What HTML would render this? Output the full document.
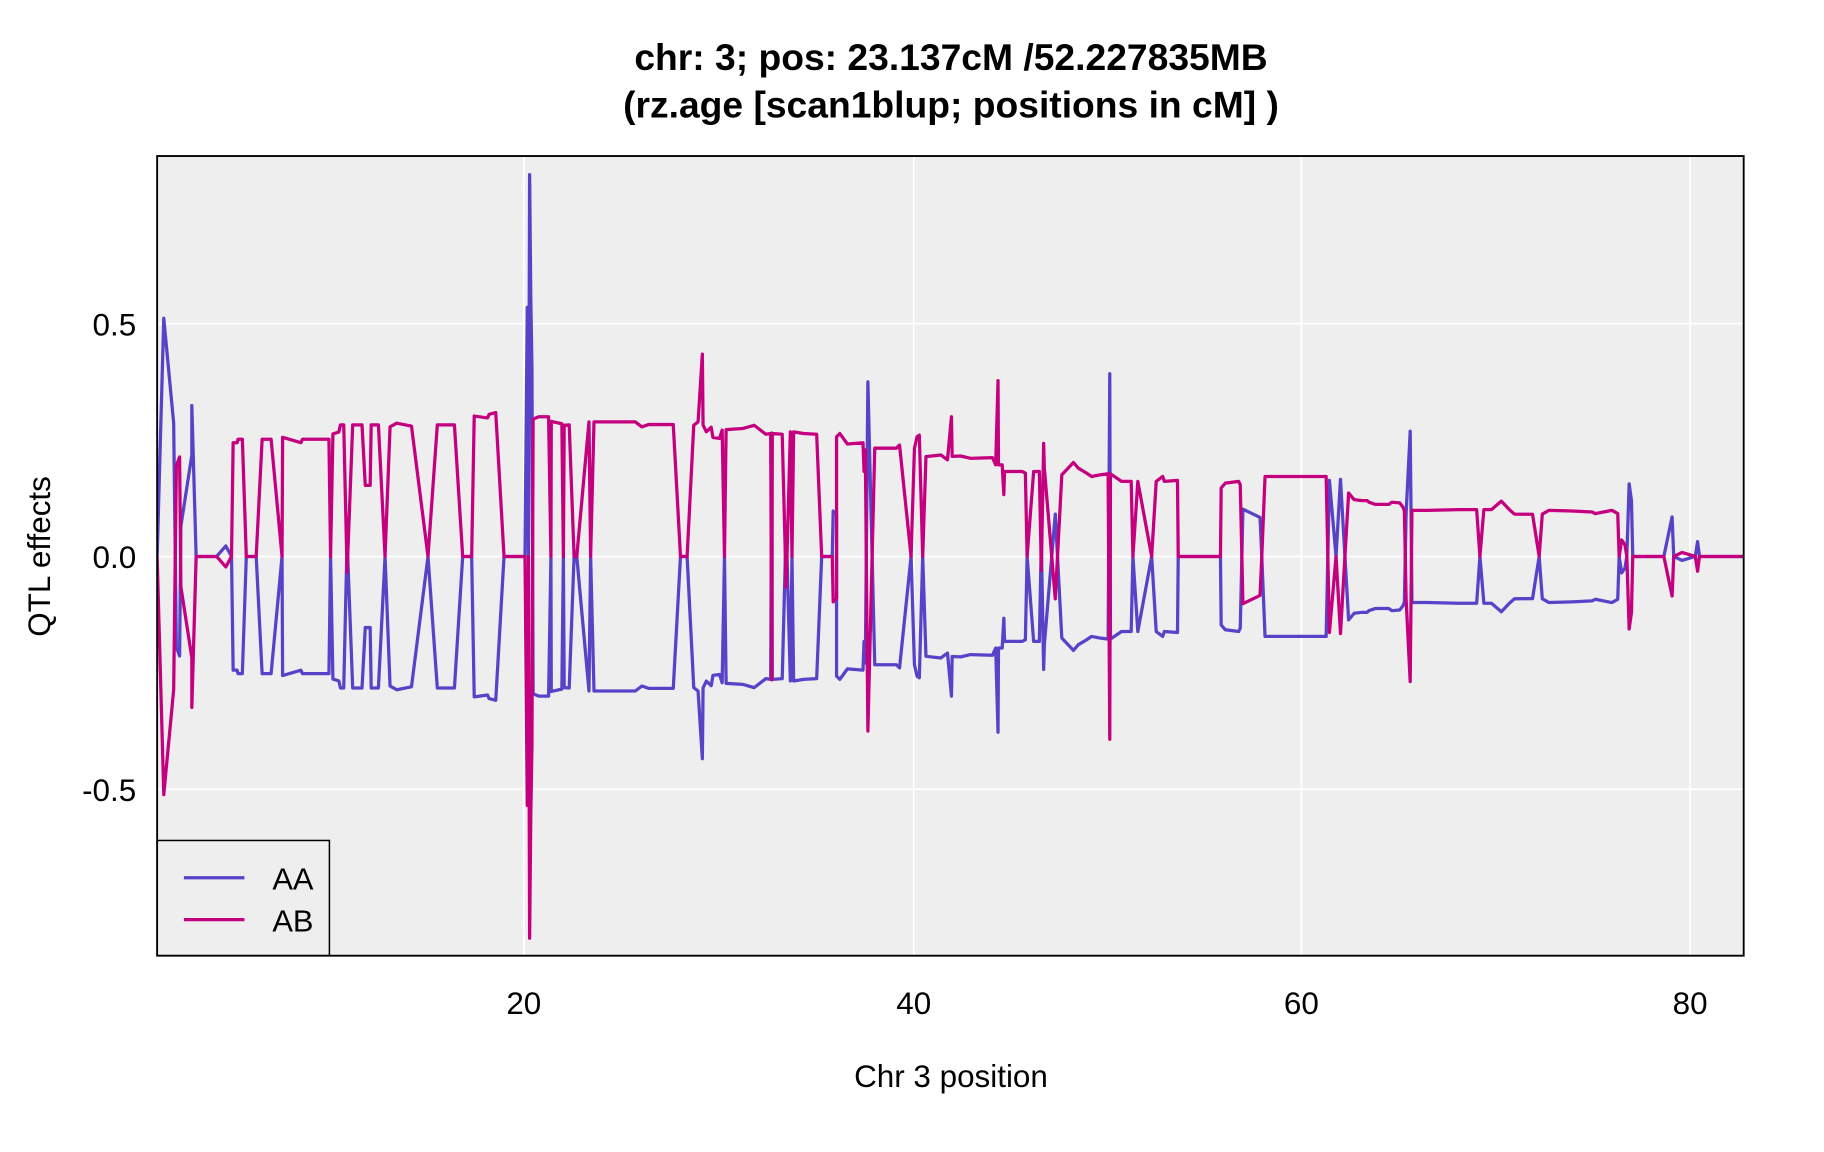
<!DOCTYPE html>
<html><head><meta charset="utf-8"><style>
html,body{margin:0;padding:0;background:#fff;}
svg{display:block;}
text{font-family:"Liberation Sans",Arial,sans-serif;fill:#000;}
</style></head><body>
<svg width="1824" height="1152" viewBox="0 0 1567 989.6" xmlns="http://www.w3.org/2000/svg">
<defs><clipPath id="c"><rect x="135" y="134" width="1363" height="687"/></clipPath></defs>
<text x="817" y="60" font-size="32" font-weight="bold" text-anchor="middle">chr: 3; pos: 23.137cM /52.227835MB</text>
<text x="817" y="101" font-size="32" font-weight="bold" text-anchor="middle">(rz.age [scan1blup; positions in cM] )</text>
<rect x="135" y="134" width="1363" height="687" fill="#eeeeee"/>
<g stroke="#ffffff" stroke-width="1.5">
<line x1="450" y1="134" x2="450" y2="821"/><line x1="785" y1="134" x2="785" y2="821"/>
<line x1="1118" y1="134" x2="1118" y2="821"/><line x1="1452" y1="134" x2="1452" y2="821"/>
<line x1="135" y1="278" x2="1498" y2="278"/><line x1="135" y1="478" x2="1498" y2="478"/><line x1="135" y1="678" x2="1498" y2="678"/>
</g>
<g clip-path="url(#c)" fill="none" stroke-width="2.8" stroke-linejoin="round">
<polyline stroke="#5743c8" transform="translate(0,956) scale(1,-1)" points="135,478 140.7,682.6 149.2,592.5 151.5,400.1 154.3,392.5 155.4,504 164.8,565 164.8,607.7 168.5,478 186.1,478 194,487 198.9,478 200.3,380.3 203.7,380.3 204.5,377.3 208.2,377.3 211.6,478 220.1,478 225.2,377.3 232.9,377.3 242.3,478 242.8,375.7 258.5,380.3 259.9,377.3 282.6,377.3 284,478 286,372.7 291.1,371.1 292.5,365 295.3,365 298.2,491.7 303,365 311,365 313.8,416.9 318,416.9 318.9,365 325.1,365 330.8,478 335.1,366.6 340.8,363.5 353.5,366 367.7,478 375.7,365 390.4,365 397.5,478 405.2,478 407.4,357.4 418.8,359 420.2,355.9 425.9,354.4 433,478 448,478 451,478 453,692 454,478 455,806 456,700 457,640 458,360 462.8,358 471.3,358 473.3,478 473.6,362 482.7,364 484,478 484.7,365.3 489,365 493.2,478 495.5,478 506,362.4 507.4,478 510.3,362.4 545.8,362.4 551.5,366.7 557.1,364.7 578.4,364.7 584.6,478 590.3,478 596,365.3 599.7,362.4 603.4,304.2 604,365 606.8,370.9 611,367 612.5,375.8 618.2,376.6 620.4,369.5 622.4,478 623.8,369 638,368.1 647.9,365.3 657.9,373 662.1,372.4 663,584 663.5,372.4 672,373 675.4,504.4 679,371 680.4,478 681.8,371 690.3,372.4 701.6,373 705.9,478 715,478 715.8,517 718.7,514 718.7,375.2 721.5,372.4 728,381.4 741.4,380.3 742.3,405 743.4,386.5 745.6,628 751.5,385 770,385 772.8,382.3 782.7,478 785.6,385 787.8,375.2 789.8,373.8 792.7,478 795.5,392.2 808.3,390.8 814,395 817.4,358 818,392 825.3,391.7 833.8,393.7 852.6,393.1 855.4,399.3 857.4,327 857.8,399.3 861,399.3 862.4,424.9 863,405 878,405 880.9,406.4 882.4,478 888,405 892.9,405 894.6,490 896.6,380.9 897.2,402.2 906.6,514.4 912.2,407.9 913.6,406.4 922.2,397.3 926.4,402.2 933.5,406.4 937.8,409.3 944.9,407.9 952,407 953.4,635 954,407 963.5,413.5 971.8,413.5 973.3,478 977.5,413.5 989.4,478 993.3,413.5 998.9,409.3 1000.3,413.5 1011.6,412.7 1012.2,478 1048.5,478 1049.1,419.2 1052.7,415 1064.1,413.5 1065.5,416.4 1067.8,518.6 1082.5,511.5 1084,478 1086.8,409.3 1139.3,409.3 1142.1,543.3 1147.8,478 1151.6,544.2 1158.6,423.5 1163.4,429.2 1170,430 1174.5,430 1176,431.4 1181.7,433.3 1193,433.3 1195.8,431.4 1202.5,432 1205.3,435.6 1206.5,438.7 1208,514.8 1211.5,585.5 1213,438.4 1226,438.4 1253,437.8 1268.6,437.8 1271.4,478 1274.8,437.8 1281.3,437.8 1289.8,430.5 1296.7,437.8 1301,441.6 1316.6,441.8 1322.3,478 1325,441.6 1330.8,438.4 1350.6,439 1367.7,439.8 1370.5,441.2 1384.7,438.4 1389.8,441.2 1391,478 1393.2,463.9 1396,468 1397.6,478 1399.6,540.3 1401.6,526 1402.7,478 1429.4,478 1436.5,512 1437.9,478 1445,474.6 1456.4,478 1458.4,490.7 1460,478 1498,478"/>
<polyline stroke="#c4007f" points="135,478 140.7,682.6 149.2,592.5 151.5,400.1 154.3,392.5 155.4,504 164.8,565 164.8,607.7 168.5,478 186.1,478 194,487 198.9,478 200.3,380.3 203.7,380.3 204.5,377.3 208.2,377.3 211.6,478 220.1,478 225.2,377.3 232.9,377.3 242.3,478 242.8,375.7 258.5,380.3 259.9,377.3 282.6,377.3 284,478 286,372.7 291.1,371.1 292.5,365 295.3,365 298.2,491.7 303,365 311,365 313.8,416.9 318,416.9 318.9,365 325.1,365 330.8,478 335.1,366.6 340.8,363.5 353.5,366 367.7,478 375.7,365 390.4,365 397.5,478 405.2,478 407.4,357.4 418.8,359 420.2,355.9 425.9,354.4 433,478 448,478 451,478 453,692 454,478 455,806 456,700 457,640 458,360 462.8,358 471.3,358 473.3,478 473.6,362 482.7,364 484,478 484.7,365.3 489,365 493.2,478 495.5,478 506,362.4 507.4,478 510.3,362.4 545.8,362.4 551.5,366.7 557.1,364.7 578.4,364.7 584.6,478 590.3,478 596,365.3 599.7,362.4 603.4,304.2 604,365 606.8,370.9 611,367 612.5,375.8 618.2,376.6 620.4,369.5 622.4,478 623.8,369 638,368.1 647.9,365.3 657.9,373 662.1,372.4 663,584 663.5,372.4 672,373 675.4,504.4 679,371 680.4,478 681.8,371 690.3,372.4 701.6,373 705.9,478 715,478 715.8,517 718.7,514 718.7,375.2 721.5,372.4 728,381.4 741.4,380.3 742.3,405 743.4,386.5 745.6,628 751.5,385 770,385 772.8,382.3 782.7,478 785.6,385 787.8,375.2 789.8,373.8 792.7,478 795.5,392.2 808.3,390.8 814,395 817.4,358 818,392 825.3,391.7 833.8,393.7 852.6,393.1 855.4,399.3 857.4,327 857.8,399.3 861,399.3 862.4,424.9 863,405 878,405 880.9,406.4 882.4,478 888,405 892.9,405 894.6,490 896.6,380.9 897.2,402.2 906.6,514.4 912.2,407.9 913.6,406.4 922.2,397.3 926.4,402.2 933.5,406.4 937.8,409.3 944.9,407.9 952,407 953.4,635 954,407 963.5,413.5 971.8,413.5 973.3,478 977.5,413.5 989.4,478 993.3,413.5 998.9,409.3 1000.3,413.5 1011.6,412.7 1012.2,478 1048.5,478 1049.1,419.2 1052.7,415 1064.1,413.5 1065.5,416.4 1067.8,518.6 1082.5,511.5 1084,478 1086.8,409.3 1139.3,409.3 1142.1,543.3 1147.8,478 1151.6,544.2 1158.6,423.5 1163.4,429.2 1170,430 1174.5,430 1176,431.4 1181.7,433.3 1193,433.3 1195.8,431.4 1202.5,432 1205.3,435.6 1206.5,438.7 1208,514.8 1211.5,585.5 1213,438.4 1226,438.4 1253,437.8 1268.6,437.8 1271.4,478 1274.8,437.8 1281.3,437.8 1289.8,430.5 1296.7,437.8 1301,441.6 1316.6,441.8 1322.3,478 1325,441.6 1330.8,438.4 1350.6,439 1367.7,439.8 1370.5,441.2 1384.7,438.4 1389.8,441.2 1391,478 1393.2,463.9 1396,468 1397.6,478 1399.6,540.3 1401.6,526 1402.7,478 1429.4,478 1436.5,512 1437.9,478 1445,474.6 1456.4,478 1458.4,490.7 1460,478 1498,478"/>
</g>
<rect x="135" y="722" width="148" height="99" fill="#eeeeee" stroke="#000" stroke-width="1.3"/>
<line x1="158" y1="754" x2="210" y2="754" stroke="#5743c8" stroke-width="2.8"/>
<line x1="158" y1="790" x2="210" y2="790" stroke="#c4007f" stroke-width="2.8"/>
<text x="234" y="764" font-size="26.5">AA</text>
<text x="234" y="800" font-size="26.5">AB</text>
<rect x="135" y="134" width="1363" height="687" fill="none" stroke="#000" stroke-width="1.6"/>
<g font-size="27" text-anchor="end">
<text x="117" y="288">0.5</text><text x="117" y="488">0.0</text><text x="117" y="688">-0.5</text>
</g>
<g font-size="27" text-anchor="middle">
<text x="450" y="871">20</text><text x="785" y="871">40</text><text x="1118" y="871">60</text><text x="1452" y="871">80</text>
<text x="817" y="934">Chr 3 position</text>
<text transform="translate(43,478) rotate(-90)">QTL effects</text>
</g>
</svg>
</body></html>
